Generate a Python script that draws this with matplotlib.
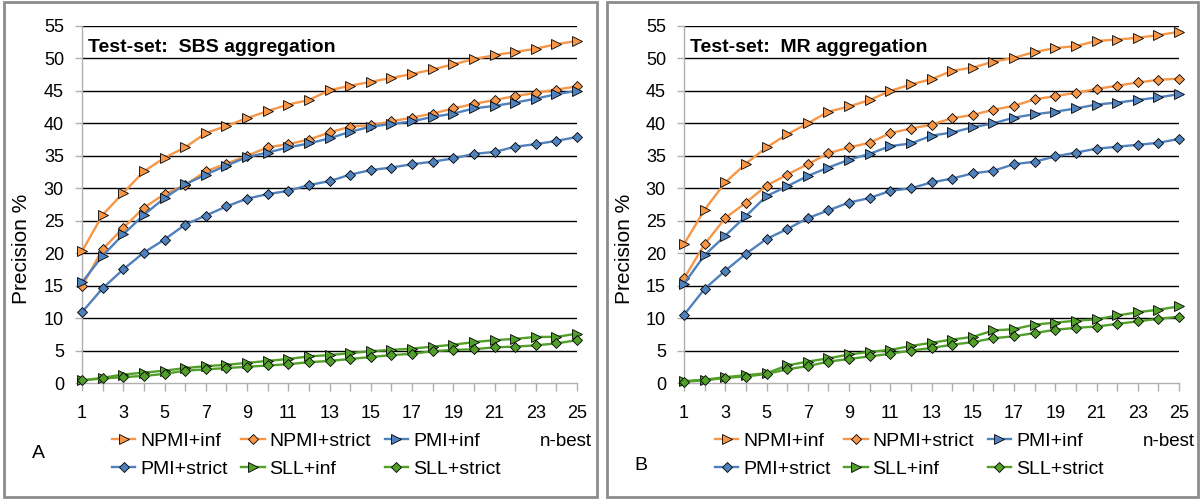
import matplotlib
matplotlib.use('Agg')
import matplotlib.pyplot as plt
from matplotlib.patches import Rectangle

plt.rcParams['font.family'] = ['Liberation Sans', 'DejaVu Sans']

# ---------------- data ----------------
n_best = list(range(1, 26))
series_names = ['NPMI+inf', 'NPMI+strict', 'PMI+inf', 'PMI+strict', 'SLL+inf', 'SLL+strict']

# Panel A: SBS aggregation
sbs_npmi_inf = [20.3, 25.9, 29.3, 32.6, 34.7, 36.3, 38.5, 39.6, 40.8, 41.9, 42.9, 43.6, 45.1,
                45.8, 46.4, 47.0, 47.6, 48.3, 49.1, 49.9, 50.5, 51.0, 51.5, 52.2, 52.7]
sbs_npmi_strict = [14.9, 20.6, 23.9, 27.0, 29.1, 30.5, 32.6, 33.8, 35.0, 36.3, 36.8, 37.5, 38.6,
                   39.5, 39.7, 40.3, 40.9, 41.5, 42.3, 43.0, 43.6, 44.2, 44.7, 45.2, 45.7]
sbs_pmi_inf = [15.5, 19.6, 22.9, 25.9, 28.5, 30.6, 32.1, 33.5, 34.8, 35.5, 36.3, 36.9, 37.7,
               38.7, 39.5, 39.9, 40.3, 41.0, 41.5, 42.3, 42.7, 43.2, 43.8, 44.5, 45.0]
sbs_pmi_strict = [10.9, 14.6, 17.5, 20.1, 22.1, 24.4, 25.8, 27.2, 28.4, 29.1, 29.6, 30.5, 31.1,
                  32.1, 32.8, 33.2, 33.7, 34.1, 34.6, 35.3, 35.6, 36.4, 36.8, 37.3, 37.9]
sbs_sll_inf = [0.4, 0.8, 1.3, 1.6, 1.9, 2.3, 2.6, 2.8, 3.1, 3.4, 3.7, 4.1, 4.3,
               4.6, 4.9, 5.1, 5.3, 5.6, 5.9, 6.3, 6.6, 6.8, 7.1, 7.1, 7.6]
sbs_sll_strict = [0.4, 0.7, 0.9, 1.1, 1.4, 1.9, 2.1, 2.3, 2.5, 2.7, 2.9, 3.2, 3.4,
                  3.7, 4.0, 4.3, 4.5, 4.9, 5.1, 5.2, 5.5, 5.6, 5.8, 6.1, 6.6]

# Panel B: MR aggregation
mr_npmi_inf = [21.4, 26.7, 30.9, 33.8, 36.3, 38.3, 40.0, 41.8, 42.6, 43.6, 45.0, 46.0, 46.8,
               48.1, 48.6, 49.5, 50.1, 51.0, 51.6, 51.9, 52.7, 52.9, 53.2, 53.6, 54.1]
mr_npmi_strict = [16.1, 21.4, 25.4, 27.8, 30.4, 32.1, 33.7, 35.4, 36.3, 37.0, 38.5, 39.2, 39.8,
                  40.8, 41.3, 42.1, 42.7, 43.7, 44.2, 44.7, 45.3, 45.8, 46.3, 46.7, 46.9]
mr_pmi_inf = [15.3, 19.7, 22.7, 25.7, 28.8, 30.3, 31.9, 33.2, 34.4, 35.3, 36.5, 36.9, 38.1,
              38.6, 39.4, 40.0, 40.9, 41.4, 41.8, 42.3, 42.9, 43.2, 43.6, 44.0, 44.5]
mr_pmi_strict = [10.5, 14.5, 17.3, 19.9, 22.2, 23.7, 25.4, 26.6, 27.8, 28.5, 29.6, 30.0, 30.9,
                 31.5, 32.3, 32.7, 33.7, 34.1, 34.9, 35.5, 36.1, 36.4, 36.7, 37.0, 37.6]
mr_sll_inf = [0.3, 0.5, 0.9, 1.2, 1.5, 2.7, 3.3, 3.8, 4.4, 4.8, 5.1, 5.7, 6.2,
              6.7, 7.1, 8.1, 8.3, 9.0, 9.3, 9.6, 9.8, 10.4, 10.9, 11.3, 11.8]
mr_sll_strict = [0.2, 0.4, 0.8, 1.0, 1.4, 2.1, 2.6, 3.3, 3.7, 4.1, 4.5, 5.0, 5.4,
                 5.9, 6.3, 6.9, 7.2, 7.7, 8.2, 8.5, 8.7, 9.1, 9.5, 9.9, 10.2]

y_ticks = list(range(0, 60, 5))
panel_titles = ['Test-set:  SBS aggregation', 'Test-set:  MR aggregation']
panel_letters = ['A', 'B']
x_label = 'n-best'
y_label = 'Precision %'

panels = [
    [sbs_npmi_inf, sbs_npmi_strict, sbs_pmi_inf, sbs_pmi_strict, sbs_sll_inf, sbs_sll_strict],
    [mr_npmi_inf, mr_npmi_strict, mr_pmi_inf, mr_pmi_strict, mr_sll_inf, mr_sll_strict],
]

# ---------------- style ----------------
ORANGE = '#F79646'
BLUE = '#4F81BD'
GREEN = '#52A02A'
colors = [ORANGE, ORANGE, BLUE, BLUE, GREEN, GREEN]
markers = ['>', 'D', '>', 'D', '>', 'D']
msizes = [7.5, 5.2, 7.5, 5.2, 7.5, 5.2]

W, H = 1203, 499
fig = plt.figure(figsize=(W / 100, H / 100), dpi=100)

def fx(px):
    return px / W

def fy(py):
    return 1 - py / H

# panel borders
for (l, r) in [(4, 597), (607, 1198)]:
    fig.patches.append(Rectangle((fx(l), fy(497)), fx(r - l), (497 - 2) / H,
                                 transform=fig.transFigure, fill=False,
                                 edgecolor='#8c8c8c', linewidth=2.0, zorder=0))

ax_left = [82, 684]
shift = [0, 603]
ax_w = 495
ax_top, ax_bot = 26, 383
letter_pos = [(38, 454), (641, 465)]

for p in range(2):
    ax = fig.add_axes([fx(ax_left[p]), fy(ax_bot), fx(ax_w), (ax_bot - ax_top) / H])
    handles = []
    for i, vals in enumerate(panels[p]):
        ln, = ax.plot(n_best, vals, color=colors[i], lw=1.7, marker=markers[i],
                      ms=msizes[i], markerfacecolor=colors[i], markeredgecolor='black',
                      markeredgewidth=0.6, clip_on=False, label=series_names[i],
                      zorder=3)
        handles.append(ln)
    ax.set_xlim(1, 25)
    ax.set_ylim(0, 55)
    ax.set_yticks(y_ticks)
    ax.set_xticks(n_best)
    ax.set_xticklabels([str(v) if v % 2 == 1 else '' for v in n_best])
    ax.set_axisbelow(True)
    ax.yaxis.grid(True, color='black', lw=1.0)
    ax.get_ygridlines()[0].set_visible(False)
    for s in ['top', 'right']:
        ax.spines[s].set_visible(False)
    for s in ['left', 'bottom']:
        ax.spines[s].set_color('#b0b0b0')
        ax.spines[s].set_linewidth(1.0)
    ax.tick_params(axis='x', direction='out', length=6, width=1, color='#b0b0b0',
                   labelsize=13, pad=10)
    ax.tick_params(axis='y', direction='out', length=5, width=1, color='#b0b0b0',
                   labelsize=13, pad=8)
    ax.text(6 / ax_w, 1 - 22 / (ax_bot - ax_top), panel_titles[p], transform=ax.transAxes,
            fontsize=14, fontweight='bold', ha='left', va='center')

    # y label
    fig.text(fx(22 + shift[p]), fy(249), y_label, rotation=90, fontsize=15,
             ha='center', va='center')
    # x label at right
    fig.text(fx(592 + shift[p]), fy(442), x_label, fontsize=13.5, ha='right', va='center')
    # panel letter
    fig.text(fx(letter_pos[p][0]), fy(letter_pos[p][1]), panel_letters[p], fontsize=14,
             ha='center', va='center')

    order = [0, 3, 1, 4, 2, 5]
    leg = ax.legend([handles[k] for k in order], [series_names[k] for k in order],
                    ncol=3, loc='upper left',
                    bbox_to_anchor=(fx(112 + shift[p]), fy(432)),
                    bbox_transform=fig.transFigure, frameon=False, fontsize=14,
                    handlelength=1.2, handletextpad=0.25, columnspacing=0.7,
                    labelspacing=0.55, borderpad=0, borderaxespad=0)

fig.savefig('out.png', dpi=100)
